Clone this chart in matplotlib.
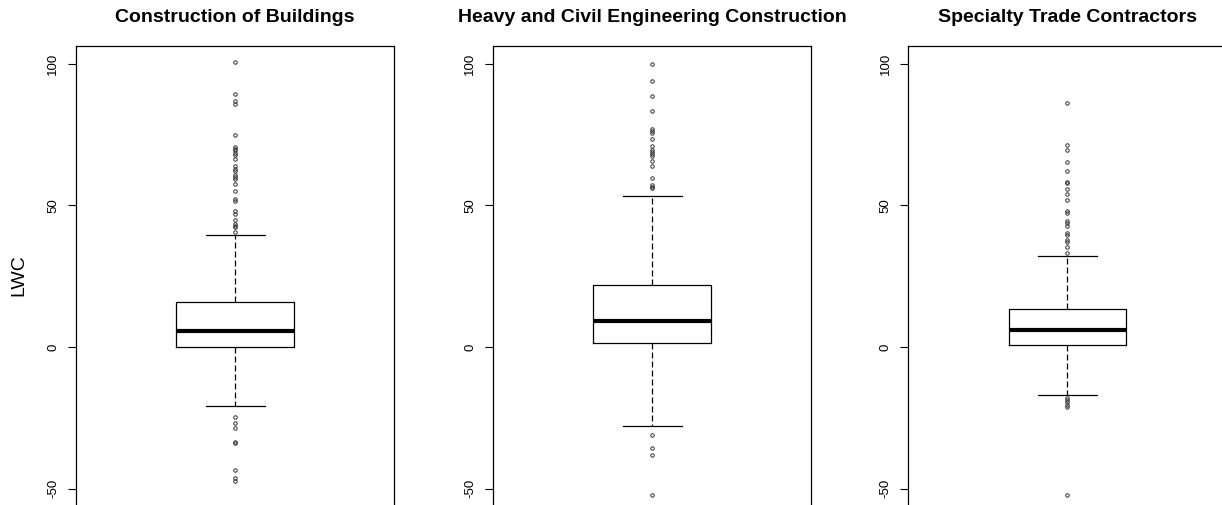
import matplotlib
matplotlib.use("Agg")
import matplotlib.pyplot as plt

plt.rcParams['font.family'] = ['Liberation Sans', 'DejaVu Sans']

titles = ["Construction of Buildings",
          "Heavy and Civil Engineering Construction",
          "Specialty Trade Contractors"]

# box summary per panel
q1 = [0.0, 1.3, 0.7]
med = [5.5, 9.1, 6.0]
q3 = [15.8, 21.9, 13.5]
whis_lo = [-20.8, -27.9, -16.9]
whis_hi = [39.6, 53.3, 32.1]

out_buildings = [100.8, 89.5, 86.8, 85.9, 74.8, 70.5, 70.0, 69.5, 68.6, 67.7,
                 66.5, 63.9, 62.9, 62.2, 60.8, 60.1, 59.4, 57.5, 55.2, 52.2,
                 51.4, 48.1, 46.9, 44.8, 43.6, 42.9, 42.2, 40.6,
                 -24.6, -26.9, -28.7, -33.5, -34.0, -43.4, -46.4, -47.2]
out_heavy = [100.0, 93.8, 88.5, 83.2, 77.1, 76.4, 75.4, 73.5, 70.9, 69.5,
             68.8, 68.1, 67.4, 65.7, 63.9, 59.8, 57.1, 56.6, 56.1,
             -31.1, -35.5, -38.1, -52.2]
out_specialty = [86.0, 71.3, 69.7, 65.5, 62.0, 58.4, 57.8, 55.9, 54.1, 52.0,
                 47.9, 47.2, 44.5, 43.7, 42.8, 40.3, 39.4, 37.8, 37.1, 35.4,
                 33.3, -17.9, -18.7, -19.5, -20.4, -21.1, -52.2]
outliers = [out_buildings, out_heavy, out_specialty]

W, H = 1222, 505
fig = plt.figure(figsize=(W / 100, H / 100), dpi=100)
fig.patch.set_facecolor("white")

lefts = [76, 493, 908.3]
ax_w = 318.3
ax_top, ax_bot = 45.7, 535.0

for i in range(3):
    ax = fig.add_axes([lefts[i] / W, 1 - ax_bot / H, ax_w / W, (ax_bot - ax_top) / H])
    stats = [dict(med=med[i], q1=q1[i], q3=q3[i], whislo=whis_lo[i],
                  whishi=whis_hi[i], fliers=outliers[i])]
    ax.bxp(stats, positions=[1], widths=0.4, capwidths=0.2,
           boxprops=dict(color="black", linewidth=0.9),
           medianprops=dict(color="black", linewidth=3.0, solid_capstyle="butt"),
           whiskerprops=dict(color="black", linewidth=0.9, linestyle=(0, (4.8, 2.4))),
           capprops=dict(color="black", linewidth=0.9),
           flierprops=dict(marker="o", markersize=2.5, markerfacecolor="none",
                           markeredgecolor="#333333", markeredgewidth=0.7))
    ax.set_xlim(0.46, 1.54)
    ax.set_ylim(-66.4, 106.4)
    ax.set_xticks([])
    ax.set_yticks([-50, 0, 50, 100])
    ax.set_yticklabels(["-50", "0", "50", "100"], rotation=90, va="center",
                       fontsize=9.5)
    ax.tick_params(axis="y", length=5.5, width=0.8, pad=6.5)
    for s in ax.spines.values():
        s.set_linewidth(0.9)
    cx = (lefts[i] + ax_w / 2) / W
    fig.text(cx, 1 - 17 / H, titles[i], fontsize=14, fontweight="bold",
             ha="center", va="center")

fig.text(19 / W, 1 - 275 / H, "LWC", fontsize=14, rotation=90,
         ha="center", va="center")

fig.savefig("out.png", dpi=100)
